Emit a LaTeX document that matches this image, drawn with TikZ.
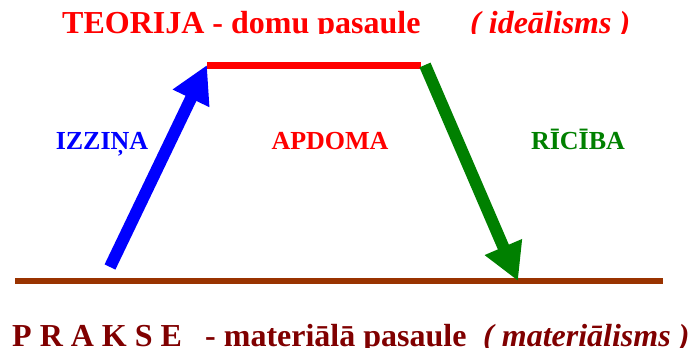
\documentclass[tikz,border=0pt]{standalone}
\usepackage{fontspec}
\setmainfont{Liberation Serif}
\usepackage{tikz}
\usetikzlibrary{arrows.meta, positioning}
\definecolor{teorija}{HTML}{FF0000}
\definecolor{izzina}{HTML}{0000FF}
\definecolor{riciba}{HTML}{008000}
\definecolor{prakse}{HTML}{993300}
\definecolor{praksetxt}{HTML}{800000}

\begin{document}
\begin{tikzpicture}[
      x=1pt, y=-1pt,
      title/.style={inner sep=0pt, anchor=base west,
                    font=\fontsize{32}{38}\selectfont\bfseries},
      lbl/.style={inner sep=0pt, anchor=base,
                  font=\fontsize{26}{30}\selectfont\bfseries},
      flow/.style={line width=12pt, -{Triangle[length=37pt, width=38pt]}},
      level/.style={line width=7pt},
    ]
    \useasboundingbox (0,0) rectangle (689,348);

    % headings, cut off as in the slide
    \begin{scope}
      \clip (0,0) rectangle (689,33);
      \node[title, teorija] (teo) at (62,34) {TEORIJA - domu pasaule};
      \node[title, teorija] (ide) at (470,34) {\itshape ( ideālisms )};
    \end{scope}
    \begin{scope}
      \clip (0,0) rectangle (689,348);
      \node[title, praksetxt] (pra) at (12,346) {P R A K S E};
      \node[title, praksetxt] (mat) at (205,346) {- materiālā pasaule};
      \node[title, praksetxt] (mti) at (483,346) {\itshape ( materiālisms )};
    \end{scope}

    \node[lbl, izzina]  (izz) at (102,149) {IZZIŅA};
    \node[lbl, teorija] (apd) at (330,149) {APDOMA};
    \node[lbl, riciba]  (ric) at (578,149) {RĪCĪBA};

    \coordinate (tl) at (207,65);
    \coordinate (tr) at (421,65);
    \coordinate (pl) at (15,281);
    \coordinate (pr) at (663,281);
    \coordinate (izs) at (110,267);
    \coordinate (rs) at (425,65);
    \coordinate (re) at (518,281);

    \draw[level, teorija] (tl) -- (tr);
    \draw[level, prakse, line width=6pt] (pl) -- (pr);
    \draw[flow, izzina] (izs) -- (tl);
    \draw[flow, riciba] (rs) -- (re);
  \end{tikzpicture}
\end{document}
